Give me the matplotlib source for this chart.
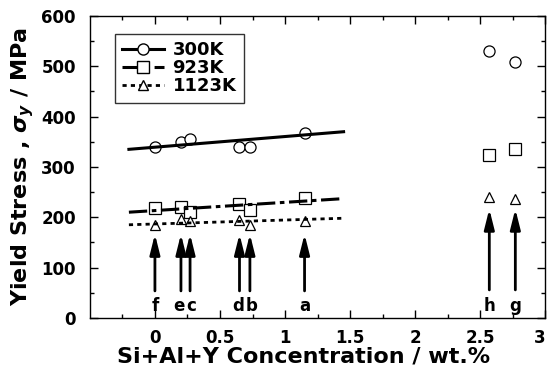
import numpy as np
import matplotlib.pyplot as plt
from matplotlib.ticker import MultipleLocator

plt.rcParams['font.family'] = ['DejaVu Sans']
plt.rcParams['font.weight'] = 'bold'
plt.rcParams['mathtext.fontset'] = 'custom'
plt.rcParams['mathtext.it'] = 'DejaVu Sans:italic:bold'

# concentration of each alloy (wt.%)
conc = [0.0, 0.2, 0.27, 0.65, 0.73, 1.15, 2.57, 2.77]
alloys = ['f', 'e', 'c', 'd', 'b', 'a', 'h', 'g']

# yield stress (MPa)
ys_300 = [340, 350, 355, 340, 340, 368, 530, 508]
ys_923 = [218, 220, 210, 227, 215, 238, 323, 336]
ys_1123 = [185, 197, 193, 195, 185, 193, 240, 237]

# fitted trend lines (end points)
fit_x = [-0.2, 1.45]
fit_300 = [335, 370]
fit_923 = [210, 237]
fit_1123 = [185, 198]

# arrows: tip / tail stress
arrow_tip = [172, 172, 172, 172, 172, 172, 222, 222]
arrow_tail = [48, 48, 48, 48, 48, 48, 50, 50]
label_y = 24
# label alignment so the close pairs (ec, db) sit side by side
label_ha = ['center', 'right', 'left', 'right', 'left', 'center', 'center', 'center']

fig = plt.figure(figsize=(5.48, 3.82), dpi=100)
ax = fig.add_axes([0.164, 0.168, 0.831, 0.79])

mk = dict(mfc='white', mec='black', mew=0.9, ls='none')
ax.plot(conc, ys_300, 'o', ms=8, **mk)
ax.plot(conc, ys_923, 's', ms=8, **mk)
ax.plot(conc, ys_1123, '^', ms=7, **mk)

ax.plot(fit_x, fit_300, '-', color='black', lw=2.2)
ax.plot(fit_x, fit_923, color='black', lw=2.2, dashes=(6, 1.5, 1.5, 1.5))
ax.plot(fit_x, fit_1123, color='black', lw=2.0, dashes=(1.5, 1.5))

# legend handles
ax.plot([], [], '-', color='black', lw=2.2, marker='o', ms=8, mfc='white', mec='black', label='300K')
ax.plot([], [], color='black', lw=2.2, dashes=(6, 1.5, 1.5, 1.5), marker='s', ms=8, mfc='white', mec='black', label='923K')
ax.plot([], [], color='black', lw=2.0, dashes=(1.5, 1.5), marker='^', ms=7, mfc='white', mec='black', label='1123K')
handles, labels = ax.get_legend_handles_labels()
leg = ax.legend(handles[-3:], labels[-3:], loc='upper left', bbox_to_anchor=(0.035, 0.97),
                frameon=True, fancybox=False, edgecolor='black', handlelength=2.3,
                handletextpad=0.5, labelspacing=0.0, borderpad=0.4, prop={'size': 13, 'weight': 'bold'})
leg.get_frame().set_linewidth(1.0)

for x, t, tip, tail, ha in zip(conc, alloys, arrow_tip, arrow_tail, label_ha):
    ax.annotate('', xy=(x, tip), xytext=(x, tail),
                arrowprops=dict(arrowstyle='-|>,head_length=1.2,head_width=0.3', color='black', lw=2))
    dx = {'center': 0, 'right': 3, 'left': -3}[ha]
    ax.annotate(t, xy=(x, label_y), xytext=(dx, 0), textcoords='offset points',
                ha=ha, va='center', fontsize=12, fontweight='bold')

ax.set_xlim(-0.5, 3)
ax.set_ylim(0, 600)
ax.xaxis.set_major_locator(MultipleLocator(0.5))
ax.xaxis.set_minor_locator(MultipleLocator(0.25))
ax.yaxis.set_major_locator(MultipleLocator(100))
ax.yaxis.set_minor_locator(MultipleLocator(50))
ax.tick_params(which='both', direction='in', top=True, right=True, labelsize=12, width=1)
ax.tick_params(which='major', length=6)
ax.tick_params(which='minor', length=3)
ax.tick_params(axis='x', pad=8)
ax.tick_params(axis='y', pad=10)
ax.set_xticks([0, 0.5, 1, 1.5, 2, 2.5, 3])
ax.set_xticklabels(['0', '0.5', '1', '1.5', '2', '2.5', '3'])
ax.set_xticks([-0.25, 0.25, 0.75, 1.25, 1.75, 2.25, 2.75], minor=True)
for lab in ax.get_xticklabels() + ax.get_yticklabels():
    lab.set_fontweight('bold')
ax.get_xticklabels()[-1].set_horizontalalignment('right')
for s in ax.spines.values():
    s.set_linewidth(1)

ax.set_xlabel('Si+Al+Y Concentration / wt.%', fontsize=16, fontweight='bold')
ax.xaxis.set_label_coords(0.47, -0.095)
ax.set_ylabel(r'Yield Stress , $\mathit{\sigma_y}$ / MPa', fontsize=16, fontweight='bold', labelpad=4)

fig.savefig('out.png', dpi=100)
